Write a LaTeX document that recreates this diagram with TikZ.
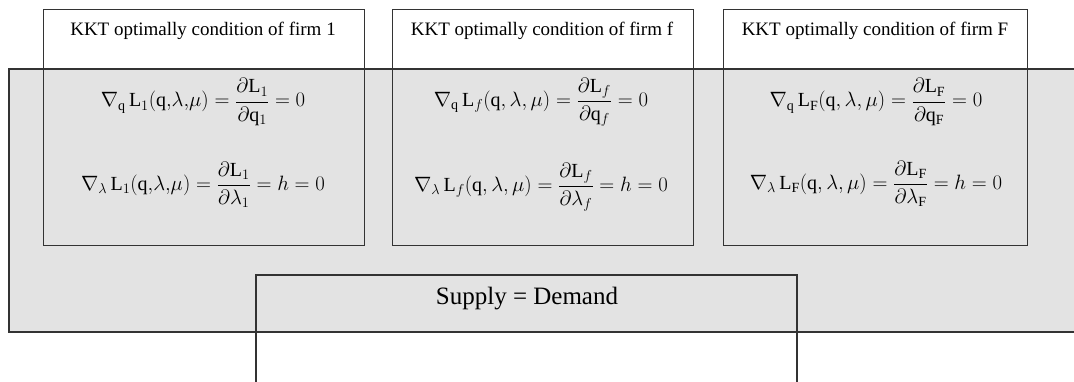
\documentclass[tikz,border=0pt]{standalone}
\usepackage{fontspec}
\setmainfont{Liberation Serif}
\begin{document}
\begin{tikzpicture}[x=1pt,y=-1pt,
  boxline/.style={draw=black!80,line width=1.2pt},
  firmbox/.style={boxline,rectangle,inner sep=0pt,anchor=north west},
  title/.style={font=\fontsize{19}{22}\selectfont},
  eq/.style={font=\fontsize{20}{24}\selectfont},
  sd/.style={font=\fontsize{25}{30}\selectfont}]
\useasboundingbox (0,0) rectangle (1074,381);
% gray region
\fill[black!11] (9,69) rectangle (1074,332);
\draw[boxline] (1074,69) -- (9,69) -- (9,332) -- (1074,332);
% firm boxes
\node[firmbox,minimum width=321pt,minimum height=236pt] (b1) at (43,9) {};
\node[firmbox,minimum width=301pt,minimum height=236pt] (bf) at (392,9) {};
\node[firmbox,minimum width=304pt,minimum height=236pt] (bF) at (723,9) {};
% supply box
\draw[boxline] (256,390) -- (256,275) -- (797,275) -- (797,390);
\coordinate (sdc) at (527,299);
\node[sd] (sd) at (sdc) {Supply = Demand};
% titles
\node[title] (t1) at (203,31) {KKT optimally condition of firm 1};
\node[title] (tf) at (542,31) {KKT optimally condition of firm f};
\node[title] (tF) at (875,31) {KKT optimally condition of firm F};
% equations
\node[eq] (e1a) at (203,102) {$\displaystyle \nabla_{\mathrm{q}}\,\mathrm{L}_1(\mathrm{q},\!\lambda,\!\mu)=\frac{\partial \mathrm{L}_1}{\partial \mathrm{q}_1}=0$};
\node[eq] (e1b) at (203,185) {$\displaystyle \nabla_{\lambda}\,\mathrm{L}_1(\mathrm{q},\!\lambda,\!\mu)=\frac{\partial \mathrm{L}_1}{\partial \lambda_1}=h=0$};
\node[eq] (efa) at (541,102) {$\displaystyle \nabla_{\mathrm{q}}\,\mathrm{L}_f(\mathrm{q},\lambda,\mu)=\frac{\partial \mathrm{L}_f}{\partial \mathrm{q}_f}=0$};
\node[eq] (efb) at (541,187) {$\displaystyle \nabla_{\lambda}\,\mathrm{L}_f(\mathrm{q},\lambda,\mu)=\frac{\partial \mathrm{L}_f}{\partial \lambda_f}=h=0$};
\node[eq] (eFa) at (876,102) {$\displaystyle \nabla_{\mathrm{q}}\,\mathrm{L}_{\mathrm{F}}(\mathrm{q},\lambda,\mu)=\frac{\partial \mathrm{L}_{\mathrm{F}}}{\partial \mathrm{q}_{\mathrm{F}}}=0$};
\node[eq] (eFb) at (876,184) {$\displaystyle \nabla_{\lambda}\,\mathrm{L}_{\mathrm{F}}(\mathrm{q},\lambda,\mu)=\frac{\partial \mathrm{L}_{\mathrm{F}}}{\partial \lambda_{\mathrm{F}}}=h=0$};
\end{tikzpicture}
\end{document}
